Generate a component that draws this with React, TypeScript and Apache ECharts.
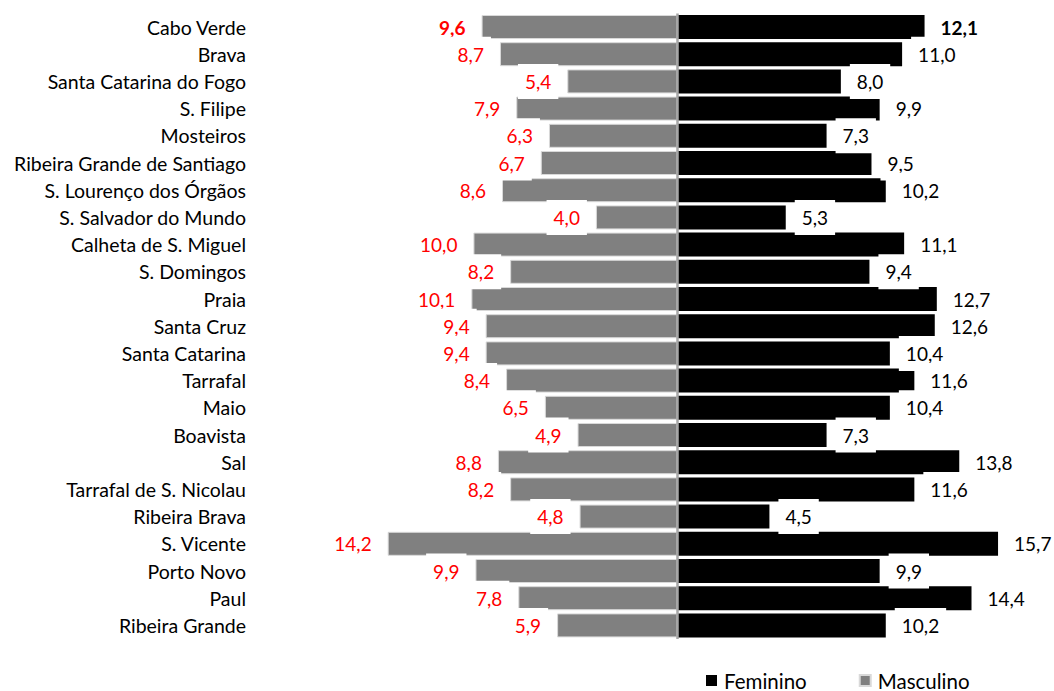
import React, { useEffect, useRef } from "react";
import * as echarts from "echarts";

const categories = [
  "Cabo Verde",
  "Brava",
  "Santa Catarina do Fogo",
  "S. Filipe",
  "Mosteiros",
  "Ribeira Grande de Santiago",
  "S. Lourenço dos Órgãos",
  "S. Salvador do Mundo",
  "Calheta de S. Miguel",
  "S. Domingos",
  "Praia",
  "Santa Cruz",
  "Santa Catarina",
  "Tarrafal",
  "Maio",
  "Boavista",
  "Sal",
  "Tarrafal de S. Nicolau",
  "Ribeira Brava",
  "S. Vicente",
  "Porto Novo",
  "Paul",
  "Ribeira Grande",
];

const masculino = [
  9.6, 8.7, 5.4, 7.9, 6.3, 6.7, 8.6, 4.0, 10.0, 8.2, 10.1, 9.4, 9.4, 8.4, 6.5,
  4.9, 8.8, 8.2, 4.8, 14.2, 9.9, 7.8, 5.9,
];

const feminino = [
  12.1, 11.0, 8.0, 9.9, 7.3, 9.5, 10.2, 5.3, 11.1, 9.4, 12.7, 12.6, 10.4, 11.6,
  10.4, 7.3, 13.8, 11.6, 4.5, 15.7, 9.9, 14.4, 10.2,
];

const FONT = "Lato";
const fmt = (v: number) => Math.abs(v).toFixed(1).replace(".", ",");

export default function App() {
  const ref = useRef<HTMLDivElement>(null);
  useEffect(() => {
    document.body.style.margin = "0";
    if (!ref.current) return;
    const chart = echarts.init(ref.current, undefined, { renderer: "svg" });
    const labelBase = {
      show: true,
      fontFamily: FONT,
      fontSize: 19,
      distance: 9,
      padding: [8, 7],
      backgroundColor: "#ffffff",
      formatter: (p: any) => fmt(p.value),
    };
    chart.setOption({
      animation: false,
      textStyle: { fontFamily: FONT },
      grid: { left: 255, top: 13.4, width: 790, height: 625.6 },
      legend: {
        data: ["Feminino", "Masculino"],
        left: 706,
        top: 670,
        padding: 0,
        icon: "rect",
        itemWidth: 11,
        itemHeight: 11,
        itemGap: 52,
        textStyle: { fontFamily: FONT, fontSize: 20.5, color: "#000", padding: [0, 0, 0, 2] },
      },
      xAxis: {
        type: "value",
        min: -20.7,
        max: 18,
        show: false,
      },
      yAxis: {
        type: "category",
        data: categories,
        inverse: true,
        axisLine: { show: false, onZero: false },
        axisTick: { show: false },
        axisLabel: {
          fontFamily: FONT,
          fontSize: 19.5,
          color: "#000",
          margin: 9,
        },
      },
      series: [
        {
          name: "Feminino",
          type: "bar",
          stack: "t",
          barWidth: 24,
          itemStyle: { color: "#000000" },
          label: { ...labelBase, position: "right", color: "#000" },
          data: feminino.map((v, i) =>
            i === 0 ? { value: v, label: { fontWeight: "bold" } } : v
          ),
          markLine: {
            silent: true,
            symbol: "none",
            label: { show: false },
            lineStyle: { color: "#a6a6a6", width: 2.5, type: "solid" },
            data: [{ xAxis: 0 }],
          },
        },
        {
          name: "Masculino",
          type: "bar",
          stack: "t",
          barWidth: 24,
          itemStyle: { color: "#808080", borderColor: "#d9d9d9", borderWidth: 1 },
          label: { ...labelBase, position: "left", color: "#ff0000" },
          data: masculino.map((v, i) =>
            i === 0 ? { value: -v, label: { fontWeight: "bold" } } : -v
          ),
        },
      ],
    });
    return () => chart.dispose();
  }, []);
  return (
    <div
      ref={ref}
      style={{ position: "absolute", left: 0, top: 0, width: 1054, height: 691 }}
    />
  );
}
